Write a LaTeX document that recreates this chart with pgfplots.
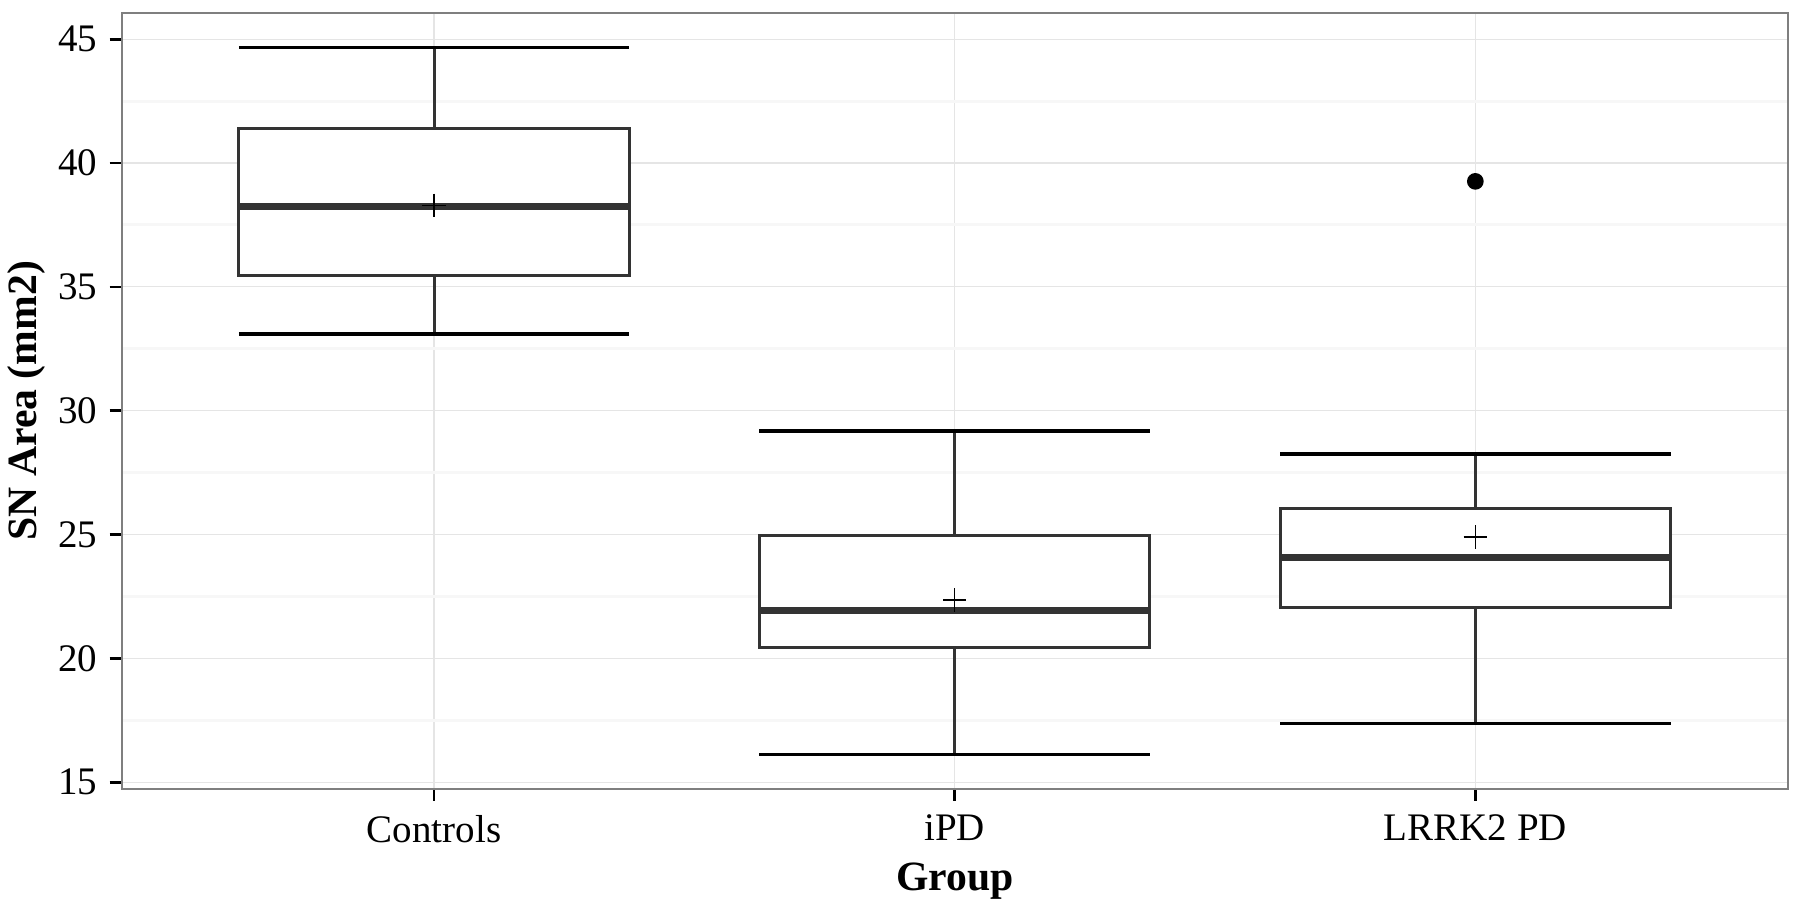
\documentclass[border=0pt]{standalone}
\usepackage{pgfplots}
\pgfplotsset{compat=1.18}
\usepackage{fontspec}
\setmainfont{Liberation Serif}
\definecolor{g20}{HTML}{333333}
\definecolor{g50}{HTML}{7F7F7F}
\definecolor{g90}{HTML}{E5E5E5}
\definecolor{g98}{HTML}{F7F7F7}
\pgfplotsset{
  boxst/.style={draw=g20, fill=white, line width=0.9pt, line join=miter, mark=none},
  medst/.style={draw=g20, line width=2.1pt, mark=none},
  stemst/.style={draw=g20, line width=0.9pt, mark=none},
  capst/.style={draw=black, line width=1.05pt, mark=none},
}
\begin{document}
\begin{tikzpicture}
\useasboundingbox (-36.51pt,-33.39pt) rectangle (503.49pt,236.61pt);
\begin{axis}[
  at={(0,0)}, anchor=south west,
  scale only axis, width=499.8pt, height=232.8pt,
  xmin=0.4, xmax=3.6, ymin=14.74, ymax=46.07,
  xtick={1,2,3}, xticklabels={Controls,iPD,LRRK2 PD},
  ytick={15,20,25,30,35,40,45},
  minor ytick={17.5,22.5,27.5,32.5,37.5,42.5},
  minor tick length=0pt,
  major tick length=3.6pt,
  tick align=outside,
  xtick pos=bottom, ytick pos=left,
  tick style={black, line width=0.8pt},
  grid=major, yminorgrids=true,
  major grid style={g90, line width=0.35pt},
  minor grid style={g98, line width=0.9pt},
  axis line style={g50, line width=0.5pt},
  /pgf/number format/assume math mode=true,
  ticklabel style={font=\fontsize{11.7}{14}\selectfont, text=black},
  yticklabel style={anchor=east, inner sep=0pt, xshift=-3.6pt},
  xticklabel style={anchor=north, inner sep=0pt, yshift=-4.1pt},
  xlabel={\textbf{Group}},
  ylabel={\textbf{SN Area (mm2)}},
  label style={font=\fontsize{12.5}{15}\selectfont, text=black},
  xlabel style={at={(axis description cs:0.5,0)}, anchor=north, yshift=-22.2pt, inner sep=0pt},
  ylabel style={at={(axis description cs:-0.0454,0.5)}, anchor=south, rotate=0, inner sep=0pt},
]
% ---------- Controls (x=1) ----------
\addplot[stemst] coordinates {(1,33.10) (1,35.44)};
\addplot[stemst] coordinates {(1,41.38) (1,44.67)};
\addplot[capst] coordinates {(0.625,33.10) (1.375,33.10)};
\addplot[capst] coordinates {(0.625,44.67) (1.375,44.67)};
\addplot[boxst] coordinates {(0.625,35.44) (1.375,35.44) (1.375,41.38) (0.625,41.38) (0.625,35.44)} -- cycle;
\addplot[medst] coordinates {(0.625,38.26) (1.375,38.26)};
% ---------- iPD (x=2) ----------
\addplot[stemst] coordinates {(2,16.12) (2,20.45)};
\addplot[stemst] coordinates {(2,24.98) (2,29.19)};
\addplot[capst] coordinates {(1.625,16.12) (2.375,16.12)};
\addplot[capst] coordinates {(1.625,29.19) (2.375,29.19)};
\addplot[boxst] coordinates {(1.625,20.45) (2.375,20.45) (2.375,24.98) (1.625,24.98) (1.625,20.45)} -- cycle;
\addplot[medst] coordinates {(1.625,21.93) (2.375,21.93)};
% ---------- LRRK2 PD (x=3) ----------
\addplot[stemst] coordinates {(3,17.37) (3,22.07)};
\addplot[stemst] coordinates {(3,26.06) (3,28.26)};
\addplot[capst] coordinates {(2.625,17.37) (3.375,17.37)};
\addplot[capst] coordinates {(2.625,28.26) (3.375,28.26)};
\addplot[boxst] coordinates {(2.625,22.07) (3.375,22.07) (3.375,26.06) (2.625,26.06) (2.625,22.07)} -- cycle;
\addplot[medst] coordinates {(2.625,24.08) (3.375,24.08)};
% means
\addplot[only marks, mark=+, mark size=3.5pt, black, line width=0.45pt]
  coordinates {(1,38.29) (2,22.36) (3,24.90)};
% outlier
\addplot[only marks, mark=*, mark size=2.3pt, black]
  coordinates {(3,39.26)};
\end{axis}
\end{tikzpicture}
\end{document}
